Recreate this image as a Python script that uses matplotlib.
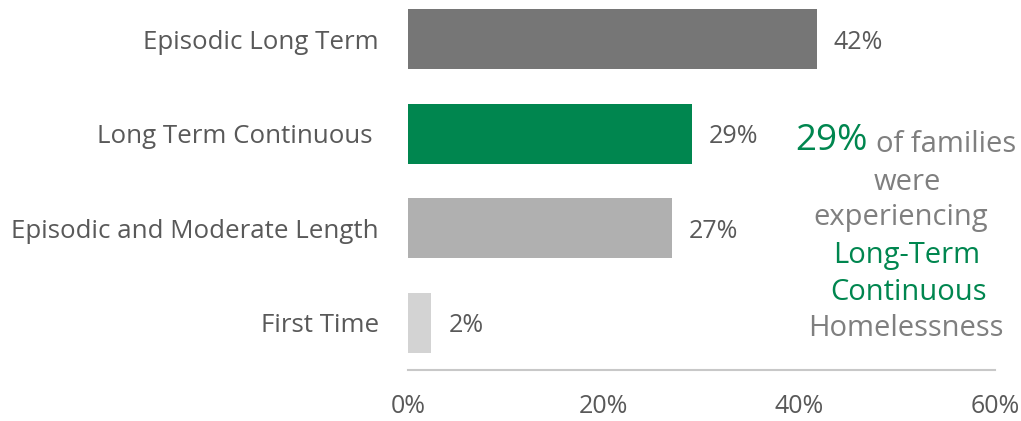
import numpy as np
import matplotlib
matplotlib.use("Agg")
import matplotlib.pyplot as plt
from matplotlib.ticker import PercentFormatter

categories = ["Episodic Long Term", "Long Term Continuous ", "Episodic and Moderate Length", "First Time"]
values = [41.8, 29, 27, 2.4]
value_labels = ["42%", "29%", "27%", "2%"]
bar_colors = ["#767676", "#00864F", "#B0B0B0", "#D3D3D3"]
x_ticks = [0, 20, 40, 60]

GREEN = "#00864F"
TEXT = "#595959"
ANNOT = "#7F7F7F"

plt.rcParams["font.family"] = ["Open Sans", "DejaVu Sans"]

W, H = 1021, 421
fig = plt.figure(figsize=(W / 100, H / 100), dpi=100)
ax = fig.add_axes([408 / W, (H - 370) / H, 587 / W, 378 / H])

y = np.arange(len(categories))
ax.barh(y, values, height=0.63, color=bar_colors)
ax.set_ylim(3.5, -0.5)
ax.set_xlim(0, 60)

# value labels at the bar ends
for yi, v, lab in zip(y, values, value_labels):
    ax.annotate(lab, (v, yi), xytext=(17, -3), textcoords="offset pixels",
                ha="left", va="center", fontsize=18, color=TEXT)

ax.set_yticks(y)
ax.set_yticklabels(categories)
ax.set_xticks(x_ticks)
ax.xaxis.set_major_formatter(PercentFormatter(decimals=0))
ax.tick_params(axis="y", length=0, pad=21, labelsize=18.6, labelcolor=TEXT)
ax.tick_params(axis="x", length=0, pad=17, labelsize=18, labelcolor=TEXT)

for s in ["top", "right", "left"]:
    ax.spines[s].set_visible(False)
ax.spines["bottom"].set_color("#C8C8C8")
ax.spines["bottom"].set_linewidth(1.5)

# side annotation
def fx(px):
    return px / W

def fy(px):
    return 1 - px / H

fig.text(fx(868), fy(141), "29%", ha="right", va="center", fontsize=26.5, color=GREEN)
fig.text(fx(876), fy(144), "of families", ha="left", va="center", fontsize=21, color=ANNOT)
fig.text(fx(907), fy(182), "were", ha="center", va="center", fontsize=21, color=ANNOT)
fig.text(fx(901), fy(218), "experiencing", ha="center", va="center", fontsize=21, color=ANNOT)
fig.text(fx(907), fy(256), "Long-Term", ha="center", va="center", fontsize=21, color=GREEN)
fig.text(fx(908), fy(292), "Continuous", ha="center", va="center", fontsize=21, color=GREEN)
fig.text(fx(906), fy(329), "Homelessness", ha="center", va="center", fontsize=21, color=ANNOT)

fig.savefig("out.png", dpi=100)
